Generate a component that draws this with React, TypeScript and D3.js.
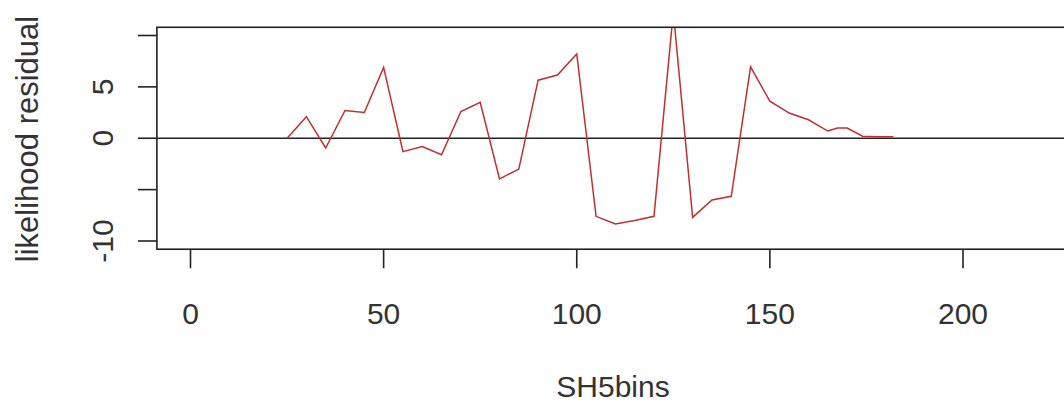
import React from "react";
import * as d3 from "d3";

const bins = [25, 30, 35, 40, 45, 50, 55, 60, 65, 70, 75, 80, 85, 90, 95, 100, 105, 110, 115, 120, 125, 130, 135, 140, 145, 150, 155, 160, 165, 167.5, 170, 174, 178, 182];
const residual = [0.0, 2.1, -0.95, 2.7, 2.5, 6.9, -1.3, -0.8, -1.6, 2.6, 3.5, -3.95, -3.0, 5.65, 6.15, 8.2, -7.6, -8.35, -8.0, -7.6, 12.3, -7.7, -6.0, -5.65, 6.95, 3.6, 2.45, 1.8, 0.7, 1.0, 1.0, 0.2, 0.15, 0.15];

const xTicks = [0, 50, 100, 150, 200];
const yTicks = [-10, -5, 0, 5, 10];
const yLabels = [-10, 0, 5];

const xLim = [-8.7, 226.5];
const yLim = [-10.8, 10.8];

const font = "'Liberation Sans', Arial, sans-serif";
const ink = "#333";

const App = () => {
  const width = 1064,
    height = 406;

  const x = d3.scaleLinear().domain([0, 200]).range([190.5, 963]);
  const y = d3.scaleLinear().domain([-10, 10]).range([241, 35.5]);

  const data = bins.map((b, i) => ({ x: b, y: residual[i] }));

  const line = d3
    .line<{ x: number; y: number }>()
    .x(d => x(d.x))
    .y(d => y(d.y));

  const left = x(xLim[0]),
    right = x(xLim[1]),
    top = y(yLim[1]),
    bottom = y(yLim[0]);

  return (
    <svg
      width={width}
      height={height}
      style={{ position: "absolute", left: 0, top: 0, background: "#fff" }}
    >
      <defs>
        <clipPath id="plotArea">
          <rect x={left} y={top} width={right - left} height={bottom - top} />
        </clipPath>
      </defs>

      {/* zero line */}
      <line x1={left} x2={right} y1={y(0)} y2={y(0)} stroke="#222" strokeWidth={1.6} />

      <path
        d={line(data) || ""}
        fill="none"
        stroke="#c0302e"
        strokeWidth={1.5}
        clipPath="url(#plotArea)"
      />

      {/* box */}
      <rect
        x={left}
        y={top}
        width={right - left}
        height={bottom - top}
        fill="none"
        stroke="#222"
        strokeWidth={1.6}
      />

      {/* x axis */}
      {xTicks.map(t => (
        <g key={"x" + t}>
          <line x1={x(t)} x2={x(t)} y1={bottom} y2={bottom + 19} stroke="#222" strokeWidth={1.6} />
          <text
            x={x(t)}
            y={323.5}
            textAnchor="middle"
            fontFamily={font}
            fontSize={30}
            fill={ink}
          >
            {t}
          </text>
        </g>
      ))}
      <text x={613} y={397} textAnchor="middle" fontFamily={font} fontSize={30} fill={ink}>
        SH5bins
      </text>

      {/* y axis */}
      {yTicks.map(t => (
        <line key={"y" + t} x1={left - 19} x2={left} y1={y(t)} y2={y(t)} stroke="#222" strokeWidth={1.6} />
      ))}
      {yLabels.map(t => (
        <text
          key={"yl" + t}
          transform={`translate(113,${y(t)}) rotate(-90)`}
          textAnchor="middle"
          fontFamily={font}
          fontSize={30}
          fill={ink}
        >
          {t}
        </text>
      ))}
      <text
        transform="translate(38,139) rotate(-90)"
        textAnchor="middle"
        fontFamily={font}
        fontSize={31}
        fill={ink}
      >
        likelihood residual
      </text>
    </svg>
  );
};

export default App;
